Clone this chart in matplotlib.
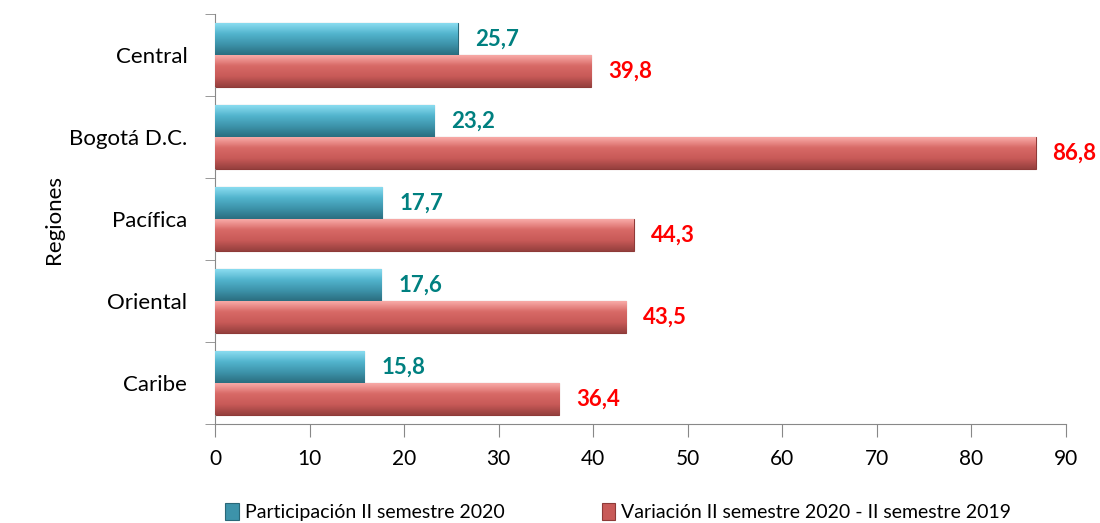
import numpy as np
import matplotlib
matplotlib.use("Agg")
import matplotlib.pyplot as plt
from matplotlib.colors import LinearSegmentedColormap

plt.rcParams['font.family'] = ['Lato', 'DejaVu Sans']

regiones = ['Central', 'Bogotá D.C.', 'Pacífica', 'Oriental', 'Caribe']
participacion = [25.7, 23.2, 17.7, 17.6, 15.8]
variacion = [39.8, 86.8, 44.3, 43.5, 36.4]
lab_part = 'Participación II semestre 2020'
lab_var = 'Variación II semestre 2020 - II semestre 2019'

teal_cmap = LinearSegmentedColormap.from_list('t', ['#8adcf0', '#52b4cd', '#3d93aa', '#2b6e80'])
red_cmap = LinearSegmentedColormap.from_list('r', ['#f8aaa7', '#d86966', '#c85a58', '#96403e'])

fig = plt.figure(figsize=(11, 5.23), dpi=100)
ax = fig.add_axes([0.1955, 0.189, 0.7735, 0.784])

y = np.arange(len(regiones))
h = 0.39

def grad_bars(bars, cmap):
    grad = np.linspace(0, 1, 64).reshape(-1, 1)
    for b in bars:
        x0, y0 = b.get_x(), b.get_y()
        w, hh = b.get_width(), b.get_height()
        im = ax.imshow(grad, cmap=cmap, aspect='auto', extent=(x0, x0 + w, y0 + hh, y0),
                       zorder=3, interpolation='bicubic')
        im.set_clip_path(b)

b1 = ax.barh(y - h / 2, participacion, height=h, color='#3d93aa', edgecolor='#2a6878',
             linewidth=0.8, zorder=2, label=lab_part)
b2 = ax.barh(y + h / 2, variacion, height=h, color='#c85a58', edgecolor='#8e3a38',
             linewidth=0.8, zorder=2, label=lab_var)
grad_bars(b1, teal_cmap)
grad_bars(b2, red_cmap)

for yi, v in zip(y, participacion):
    ax.annotate(f'{v:.1f}'.replace('.', ','), (v, yi - h / 2), xytext=(12, 0),
                textcoords='offset points', va='center', ha='left',
                color='#008080', fontsize=16, fontweight='bold')
for yi, v in zip(y, variacion):
    ax.annotate(f'{v:.1f}'.replace('.', ','), (v, yi + h / 2), xytext=(12, 0),
                textcoords='offset points', va='center', ha='left',
                color='#ff0000', fontsize=16, fontweight='bold')

ax.set_xlim(0, 90)
ax.set_xticks(np.arange(0, 91, 10))
ax.set_ylim(len(regiones) - 0.5, -0.5)
ax.set_yticks(y)
ax.set_yticklabels(regiones, fontsize=16)
ax.set_yticks(np.arange(-0.5, len(regiones), 1), minor=True)
ax.tick_params(axis='y', which='major', length=0, pad=20)
ax.tick_params(axis='y', which='minor', length=7, color='#888888')
ax.tick_params(axis='x', length=9, color='#888888', labelsize=15, pad=9)

for s in ['top', 'right']:
    ax.spines[s].set_visible(False)
ax.spines['left'].set_color('#888888')
ax.spines['bottom'].set_color('#888888')

ax.set_ylabel('Regiones', fontsize=16)
ax.yaxis.set_label_coords(-0.178, 0.5)

leg = fig.legend(handles=[b1, b2], loc='lower center', bbox_to_anchor=(0.562, -0.03),
                 ncol=2, frameon=False, fontsize=14, handlelength=0.7, handleheight=0.9,
                 handletextpad=0.3, columnspacing=5)

fig.savefig('out.png', dpi=100)
